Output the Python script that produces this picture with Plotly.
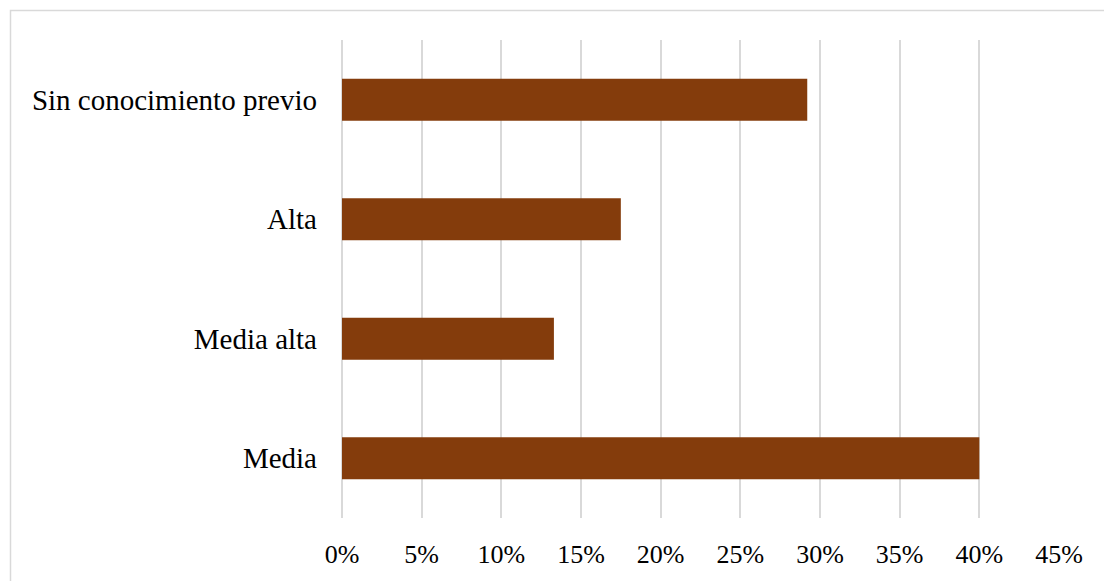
import plotly.graph_objects as go

# Niveles de conocimiento (de abajo hacia arriba) y su porcentaje
categorias = ["Media", "Media alta", "Alta", "Sin conocimiento previo"]
porcentajes = [40.0, 13.3, 17.5, 29.2]
marcas_x = [0, 5, 10, 15, 20, 25, 30, 35, 40, 45]
etiquetas_x = [f"{v}%" for v in marcas_x]

color_barra = "#843C0C"
fuente = "Liberation Serif, Times New Roman, serif"

fig = go.Figure(
    go.Bar(
        x=porcentajes,
        y=categorias,
        orientation="h",
        marker=dict(color=color_barra, line=dict(width=0)),
        hoverinfo="skip",
    )
)

fig.update_layout(
    width=1104,
    height=581,
    margin=dict(l=342, r=45, t=40, b=61),
    paper_bgcolor="white",
    plot_bgcolor="white",
    bargap=0.65,
    showlegend=False,
    font=dict(family=fuente, size=26, color="#000000"),
    xaxis=dict(
        range=[0, 45],
        tickvals=marcas_x,
        ticktext=etiquetas_x,
        showgrid=True,
        gridcolor="#d9d9d9",
        gridwidth=1.5,
        zeroline=True,
        zerolinecolor="#d9d9d9",
        zerolinewidth=1.5,
        showline=False,
        ticks="",
        ticklabelstandoff=18,
        tickfont=dict(family=fuente, size=26, color="#000000"),
    ),
    yaxis=dict(
        categoryorder="array",
        categoryarray=categorias,
        showgrid=False,
        zeroline=False,
        showline=False,
        ticks="",
        ticklabelstandoff=24,
        tickfont=dict(family=fuente, size=29, color="#000000"),
    ),
    shapes=[
        dict(
            type="rect",
            xref="paper",
            yref="paper",
            x0=(10.5 - 342) / 717,
            x1=1.2,
            y0=-0.3,
            y1=1 + (40 - 10.5) / 480,
            line=dict(color="#d9d9d9", width=1.5),
            fillcolor="rgba(0,0,0,0)",
            layer="below",
        )
    ],
)

fig.write_html("out.html")
